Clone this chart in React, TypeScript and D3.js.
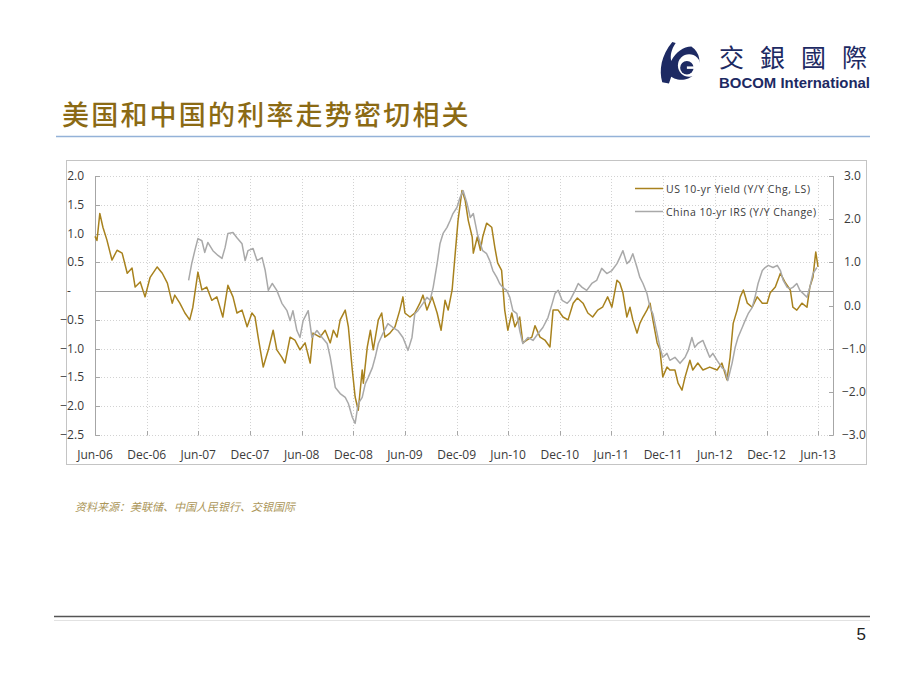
import { useEffect, useRef } from "react";
import * as d3 from "d3";

// US 10-yr yield, y/y change (left scale)
const usSeries: [string, number][] = [
  ["2006-06-01", 0.95], ["2006-06-08", 0.88], ["2006-06-18", 1.35], ["2006-06-29", 1.11],
  ["2006-07-13", 0.89], ["2006-07-31", 0.54], ["2006-08-18", 0.71], ["2006-09-05", 0.66],
  ["2006-09-23", 0.31], ["2006-10-10", 0.4], ["2006-10-21", 0.07], ["2006-11-08", 0.16],
  ["2006-11-25", -0.1], ["2006-12-13", 0.24], ["2007-01-07", 0.42], ["2007-01-25", 0.31],
  ["2007-02-12", 0.14], ["2007-03-01", -0.21], ["2007-03-10", -0.07], ["2007-03-28", -0.21],
  ["2007-04-15", -0.38], ["2007-05-02", -0.5], ["2007-05-13", -0.28], ["2007-05-31", 0.33],
  ["2007-06-14", 0.02], ["2007-07-01", 0.07], ["2007-07-19", -0.16], ["2007-08-06", -0.1],
  ["2007-08-27", -0.45], ["2007-09-14", 0.1], ["2007-10-02", -0.1], ["2007-10-16", -0.38],
  ["2007-11-03", -0.33], ["2007-11-21", -0.62], ["2007-12-08", -0.38], ["2007-12-19", -0.45],
  ["2007-12-30", -0.8], ["2008-01-17", -1.32], ["2008-02-04", -1.02], ["2008-02-21", -0.68],
  ["2008-03-05", -1.02], ["2008-03-23", -1.15], ["2008-04-03", -1.25], ["2008-04-21", -0.8],
  ["2008-05-08", -0.85], ["2008-05-26", -1.02], ["2008-06-13", -0.9], ["2008-07-01", -1.25],
  ["2008-07-11", -0.73], ["2008-08-05", -0.8], ["2008-08-23", -0.68], ["2008-09-10", -0.9],
  ["2008-09-21", -0.68], ["2008-10-04", -0.8], ["2008-10-15", -0.5], ["2008-11-02", -0.33],
  ["2008-11-13", -0.62], ["2008-11-27", -1.37], ["2008-12-07", -1.84], ["2008-12-18", -2.07],
  ["2009-01-01", -1.37], ["2009-01-05", -1.6], ["2009-01-19", -0.97], ["2009-01-30", -0.68],
  ["2009-02-09", -1.02], ["2009-02-27", -0.5], ["2009-03-11", -0.38], ["2009-03-22", -0.8],
  ["2009-04-09", -0.73], ["2009-04-27", -0.62], ["2009-05-14", -0.33], ["2009-05-25", -0.1],
  ["2009-06-01", -0.38], ["2009-06-19", -0.45], ["2009-07-06", -0.38], ["2009-07-24", -0.21],
  ["2009-08-04", -0.07], ["2009-08-18", -0.33], ["2009-09-05", -0.1], ["2009-09-23", -0.38],
  ["2009-10-07", -0.68], ["2009-10-21", -0.16], ["2009-11-01", -0.33], ["2009-11-15", 0.02],
  ["2009-11-26", 0.66], ["2009-12-06", 1.23], ["2009-12-20", 1.75], ["2009-12-31", 1.58],
  ["2010-01-11", 1.23], ["2010-01-25", 0.94], ["2010-01-29", 0.66], ["2010-02-12", 0.94],
  ["2010-02-23", 0.71], ["2010-03-03", 0.94], ["2010-03-17", 1.18], ["2010-04-04", 1.11],
  ["2010-04-15", 0.76], ["2010-04-25", 0.49], ["2010-05-09", 0.36], ["2010-05-20", -0.33],
  ["2010-05-31", -0.68], ["2010-06-14", -0.38], ["2010-06-25", -0.62], ["2010-07-12", -0.45],
  ["2010-07-23", -0.9], ["2010-08-06", -0.85], ["2010-08-24", -0.8], ["2010-09-04", -0.6],
  ["2010-09-22", -0.8], ["2010-10-09", -0.85], ["2010-10-27", -0.97], ["2010-11-07", -0.33],
  ["2010-11-25", -0.33], ["2010-12-12", -0.45], ["2010-12-30", -0.5], ["2011-01-17", -0.21],
  ["2011-02-01", -0.12], ["2011-02-21", -0.21], ["2011-03-10", -0.38], ["2011-03-27", -0.45],
  ["2011-04-14", -0.33], ["2011-05-01", -0.28], ["2011-05-19", -0.1], ["2011-06-03", -0.28],
  ["2011-06-21", 0.19], ["2011-07-01", 0.14], ["2011-07-12", -0.03], ["2011-07-26", -0.45],
  ["2011-08-06", -0.28], ["2011-08-16", -0.5], ["2011-08-31", -0.73], ["2011-09-10", -0.56],
  ["2011-09-21", -0.45], ["2011-10-05", -0.33], ["2011-10-16", -0.21], ["2011-10-26", -0.5],
  ["2011-11-10", -0.9], ["2011-11-20", -1.02], ["2011-11-30", -1.49], ["2011-12-15", -1.32],
  ["2011-12-25", -1.37], ["2012-01-12", -1.37], ["2012-01-23", -1.6], ["2012-02-06", -1.72],
  ["2012-02-17", -1.49], ["2012-03-05", -1.2], ["2012-03-15", -1.37], ["2012-04-02", -1.25],
  ["2012-04-20", -1.37], ["2012-05-14", -1.32], ["2012-06-09", -1.37], ["2012-06-26", -1.25],
  ["2012-07-14", -1.54], ["2012-07-25", -1.15], ["2012-08-05", -0.56], ["2012-08-19", -0.33],
  ["2012-08-30", -0.1], ["2012-09-10", 0.02], ["2012-09-24", -0.21], ["2012-10-11", -0.28],
  ["2012-10-29", -0.1], ["2012-11-16", -0.21], ["2012-12-03", -0.21], ["2012-12-14", -0.03],
  ["2013-01-01", 0.07], ["2013-01-19", 0.31], ["2013-02-06", 0.14], ["2013-02-23", 0.02],
  ["2013-03-04", -0.28], ["2013-03-18", -0.33], ["2013-04-05", -0.21], ["2013-04-23", -0.28],
  ["2013-05-03", 0.07], ["2013-05-14", 0.24], ["2013-05-24", 0.68], ["2013-06-01", 0.42],
];

// China 10-yr IRS, y/y change (right scale)
const cnSeries: [string, number][] = [
  ["2007-04-28", 0.58], ["2007-05-09", 0.97], ["2007-05-20", 1.27], ["2007-05-31", 1.55],
  ["2007-06-14", 1.5], ["2007-06-24", 1.23], ["2007-07-05", 1.46], ["2007-07-23", 1.27],
  ["2007-08-10", 1.16], ["2007-08-24", 1.09], ["2007-09-04", 1.34], ["2007-09-14", 1.67],
  ["2007-10-02", 1.69], ["2007-10-16", 1.57], ["2007-11-03", 1.43], ["2007-11-14", 1.04],
  ["2007-11-24", 1.27], ["2007-12-12", 1.32], ["2007-12-26", 1.04], ["2008-01-13", 1.11],
  ["2008-01-24", 0.81], ["2008-02-04", 0.35], ["2008-02-18", 0.51], ["2008-03-05", 0.35],
  ["2008-03-23", 0.05], ["2008-04-10", -0.12], ["2008-04-21", -0.35], ["2008-05-01", -0.12],
  ["2008-05-15", -0.58], ["2008-05-26", -0.74], ["2008-06-06", -0.35], ["2008-06-24", -0.12],
  ["2008-07-07", -0.74], ["2008-07-25", -0.58], ["2008-08-12", -0.74], ["2008-08-30", -0.88],
  ["2008-09-10", -1.2], ["2008-09-28", -1.9], ["2008-10-15", -2.04], ["2008-11-02", -2.13],
  ["2008-11-13", -2.27], ["2008-11-27", -2.59], ["2008-12-07", -2.73], ["2008-12-18", -2.27],
  ["2009-01-01", -2.13], ["2009-01-12", -1.81], ["2009-01-22", -1.67], ["2009-02-06", -1.44],
  ["2009-02-16", -1.2], ["2009-02-27", -0.88], ["2009-03-15", -0.65], ["2009-04-02", -0.42],
  ["2009-04-20", -0.51], ["2009-05-07", -0.58], ["2009-05-25", -0.74], ["2009-06-12", -1.04],
  ["2009-06-26", -0.74], ["2009-07-06", -0.19], ["2009-07-17", -0.12], ["2009-08-04", 0.05],
  ["2009-08-18", 0.19], ["2009-08-29", 0.12], ["2009-09-09", 0.42], ["2009-09-23", 0.97],
  ["2009-10-03", 1.43], ["2009-10-14", 1.67], ["2009-10-28", 1.81], ["2009-11-08", 1.97],
  ["2009-11-18", 2.13], ["2009-12-02", 2.27], ["2009-12-13", 2.5], ["2009-12-24", 2.66],
  ["2010-01-07", 2.36], ["2010-01-18", 2.04], ["2010-01-29", 2.13], ["2010-02-12", 1.67],
  ["2010-02-23", 1.43], ["2010-03-03", 1.27], ["2010-03-17", 1.2], ["2010-03-28", 1.04],
  ["2010-04-08", 0.81], ["2010-04-22", 0.65], ["2010-05-02", 0.51], ["2010-05-13", 0.42],
  ["2010-05-27", 0.35], ["2010-06-07", 0.19], ["2010-06-18", -0.12], ["2010-07-02", -0.19],
  ["2010-07-12", -0.58], ["2010-07-23", -0.88], ["2010-08-10", -0.74], ["2010-08-28", -0.81],
  ["2010-09-15", -0.65], ["2010-10-02", -0.51], ["2010-10-20", -0.28], ["2010-11-04", 0.05],
  ["2010-11-14", 0.28], ["2010-11-25", 0.35], ["2010-12-09", 0.12], ["2010-12-27", 0.05],
  ["2011-01-06", 0.12], ["2011-01-24", 0.35], ["2011-02-04", 0.51], ["2011-02-18", 0.42],
  ["2011-03-06", 0.35], ["2011-03-24", 0.51], ["2011-04-10", 0.58], ["2011-04-28", 0.86],
  ["2011-05-16", 0.74], ["2011-06-03", 0.81], ["2011-06-21", 0.97], ["2011-07-01", 1.11],
  ["2011-07-12", 1.27], ["2011-07-26", 0.97], ["2011-08-06", 1.04], ["2011-08-16", 1.2],
  ["2011-08-31", 0.88], ["2011-09-10", 0.65], ["2011-09-21", 0.51], ["2011-10-05", 0.28],
  ["2011-10-16", -0.05], ["2011-10-26", -0.19], ["2011-11-10", -0.65], ["2011-11-20", -0.97],
  ["2011-11-30", -1.2], ["2011-12-15", -1.11], ["2011-12-25", -1.27], ["2012-01-12", -1.2],
  ["2012-01-30", -1.34], ["2012-02-17", -1.2], ["2012-02-28", -1.04], ["2012-03-12", -0.74],
  ["2012-03-22", -0.97], ["2012-04-02", -0.88], ["2012-04-20", -0.81], ["2012-05-04", -1.04],
  ["2012-05-14", -1.2], ["2012-05-25", -1.11], ["2012-06-09", -1.27], ["2012-06-26", -1.44],
  ["2012-07-07", -1.5], ["2012-07-17", -1.74], ["2012-08-01", -1.34], ["2012-08-12", -0.97],
  ["2012-08-22", -0.74], ["2012-09-06", -0.51], ["2012-09-16", -0.35], ["2012-09-27", -0.19],
  ["2012-10-11", -0.05], ["2012-10-21", 0.19], ["2012-11-01", 0.51], ["2012-11-16", 0.81],
  ["2012-11-26", 0.88], ["2012-12-07", 0.93], ["2012-12-24", 0.88], ["2013-01-08", 0.93],
  ["2013-01-19", 0.81], ["2013-01-29", 0.58], ["2013-02-12", 0.42], ["2013-02-23", 0.39],
  ["2013-03-04", 0.42], ["2013-03-18", 0.51], ["2013-03-29", 0.35], ["2013-04-09", 0.28],
  ["2013-04-23", 0.19], ["2013-05-03", 0.42], ["2013-05-14", 0.74], ["2013-05-28", 0.88],
];

const xTicks = [
  "2006-06-01", "2006-12-01", "2007-06-01", "2007-12-01", "2008-06-01",
  "2008-12-01", "2009-06-01", "2009-12-01", "2010-06-01", "2010-12-01",
  "2011-06-01", "2011-12-01", "2012-06-01", "2012-12-01", "2013-06-01",
];
const leftTicks = [2, 1.5, 1, 0.5, 0, -0.5, -1, -1.5, -2, -2.5];
const rightTicks = [3, 2, 1, 0, -1, -2, -3];
const seriesNames = ["US 10-yr Yield (Y/Y Chg, LS)", "China 10-yr IRS (Y/Y Change)"];
const seriesColors = ["#a8821e", "#a9a9a9"];

const title = "美国和中国的利率走势密切相关";
const source = "资料来源：美联储、中国人民银行、交银国际";

const axisFont = "'Open Sans', 'Noto Sans', sans-serif";

export default function App() {
  const svgRef = useRef<SVGSVGElement>(null);

  useEffect(() => {
    const svg = d3.select(svgRef.current);
    svg.selectAll("*").remove();

    const parse = d3.timeParse("%Y-%m-%d");
    const x = d3
      .scaleTime()
      .domain([parse("2006-06-01")!, parse("2013-07-24")!])
      .range([95, 833]);
    const yL = d3.scaleLinear().domain([-2.5, 2]).range([435, 176]);
    const yR = d3.scaleLinear().domain([-3, 3]).range([435, 176]);

    svg.append("rect").attr("width", 920).attr("height", 690).attr("fill", "#fff");

    // --- header logo ---
    const logo = svg
      .append("g")
      .attr("fill", "#1d2a63")
      .attr("transform", "translate(660,42) scale(1.12) translate(-662,-43)");
    logo
      .append("path")
      .attr(
        "d",
        "M664,79 C661,68 663,55 673,43 L676,44 C672,50 671,55 672,60 C676,52 683,47 690,47 A16,16 0 1 1 672,74 L670,80 Z"
      );
    logo.append("circle").attr("cx", 688).attr("cy", 64).attr("r", 10).attr("fill", "#fff");
    logo.append("circle").attr("cx", 686).attr("cy", 66).attr("r", 6);
    logo.append("rect").attr("x", 686).attr("y", 64.8).attr("width", 19).attr("height", 2.2).attr("fill", "#fff");
    svg
      .append("text")
      .attr("x", 719)
      .attr("y", 67)
      .attr("font-family", "'Noto Sans CJK TC', sans-serif")
      .attr("font-size", 25)
      .attr("letter-spacing", 16)
      .attr("fill", "#1d2a63")
      .text("交銀國際");
    svg
      .append("text")
      .attr("x", 719)
      .attr("y", 88)
      .attr("font-family", "'Liberation Sans', Arial, sans-serif")
      .attr("font-weight", "bold")
      .attr("font-size", 15)
      .attr("textLength", 151)
      .attr("lengthAdjust", "spacingAndGlyphs")
      .attr("fill", "#1d2a63")
      .text("BOCOM International");

    // --- title ---
    svg
      .append("text")
      .attr("x", 62)
      .attr("y", 125)
      .attr("font-family", "'Noto Sans CJK SC', sans-serif")
      .attr("font-size", 27)
      .attr("font-weight", 500)
      .attr("letter-spacing", 2.2)
      .attr("fill", "#8b6a14")
      .text(title);
    svg
      .append("line")
      .attr("x1", 56)
      .attr("x2", 870)
      .attr("y1", 136.5)
      .attr("y2", 136.5)
      .attr("stroke", "#94b2d8")
      .attr("stroke-width", 1.5);

    // --- chart frame ---
    svg
      .append("rect")
      .attr("x", 66.5)
      .attr("y", 160.5)
      .attr("width", 800)
      .attr("height", 304)
      .attr("fill", "none")
      .attr("stroke", "#c4c4c4");

    const tickDates = xTicks.map((d) => parse(d)!);

    // grid
    const grid = svg.append("g").attr("stroke", "#d2d2d2").attr("stroke-dasharray", "1,2");
    grid
      .selectAll("line.h")
      .data(leftTicks.filter((t) => t !== 0))
      .join("line")
      .attr("x1", 95)
      .attr("x2", 833)
      .attr("y1", (d) => Math.round(yL(d)) + 0.5)
      .attr("y2", (d) => Math.round(yL(d)) + 0.5);
    grid
      .selectAll("line.v")
      .data(tickDates.slice(1))
      .join("line")
      .attr("x1", (d) => Math.round(x(d)) + 0.5)
      .attr("x2", (d) => Math.round(x(d)) + 0.5)
      .attr("y1", 176)
      .attr("y2", 435);

    // zero line
    svg
      .append("line")
      .attr("x1", 95)
      .attr("x2", 833)
      .attr("y1", Math.round(yL(0)) + 0.5)
      .attr("y2", Math.round(yL(0)) + 0.5)
      .attr("stroke", "#9a9a9a");

    // axis lines
    const axes = svg.append("g").attr("stroke", "#a6a6a6");
    axes.append("line").attr("x1", 95.5).attr("x2", 95.5).attr("y1", 176).attr("y2", 435.5);
    axes.append("line").attr("x1", 833.5).attr("x2", 833.5).attr("y1", 176).attr("y2", 435.5);
    axes
      .selectAll("line.lt")
      .data(leftTicks)
      .join("line")
      .attr("x1", 95.5)
      .attr("x2", 100)
      .attr("y1", (d) => Math.round(yL(d)) + 0.5)
      .attr("y2", (d) => Math.round(yL(d)) + 0.5);
    axes
      .selectAll("line.rt")
      .data(rightTicks)
      .join("line")
      .attr("x1", 829)
      .attr("x2", 833.5)
      .attr("y1", (d) => Math.round(yR(d)) + 0.5)
      .attr("y2", (d) => Math.round(yR(d)) + 0.5);
    axes
      .selectAll("line.xt")
      .data(tickDates)
      .join("line")
      .attr("x1", (d) => Math.round(x(d)) + 0.5)
      .attr("x2", (d) => Math.round(x(d)) + 0.5)
      .attr("y1", 431)
      .attr("y2", 435.5);

    // tick labels
    const fmt = d3.format(".1f");
    svg
      .append("g")
      .attr("font-family", axisFont)
      .attr("font-size", 12)
      .attr("fill", "#3a3a3a")
      .selectAll("text")
      .data(leftTicks)
      .join("text")
      .attr("x", (d) => (d === 0 ? 67 : 84))
      .attr("text-anchor", (d) => (d === 0 ? "start" : "end"))
      .attr("y", (d) => yL(d) + 4)
      .text((d) => (d === 0 ? "-" : fmt(d)));
    svg
      .append("g")
      .attr("font-family", axisFont)
      .attr("font-size", 12)
      .attr("fill", "#3a3a3a")
      .selectAll("text")
      .data(rightTicks)
      .join("text")
      .attr("x", (d) => (d < 0 ? 842 : 844))
      .attr("y", (d) => yR(d) + 4)
      .text((d) => fmt(d));
    const monthFmt = d3.timeFormat("%b-%y");
    svg
      .append("g")
      .attr("font-family", axisFont)
      .attr("font-size", 12)
      .attr("fill", "#3a3a3a")
      .attr("text-anchor", "middle")
      .selectAll("text")
      .data(tickDates)
      .join("text")
      .attr("x", (d) => x(d))
      .attr("y", 459)
      .text((d) => monthFmt(d));

    // series
    const lineL = d3
      .line<[string, number]>()
      .x((d) => x(parse(d[0])!))
      .y((d) => yL(d[1]));
    const lineR = d3
      .line<[string, number]>()
      .x((d) => x(parse(d[0])!))
      .y((d) => yR(d[1]));
    svg
      .append("path")
      .datum(usSeries)
      .attr("fill", "none")
      .attr("stroke", seriesColors[0])
      .attr("stroke-width", 1.5)
      .attr("stroke-linejoin", "round")
      .attr("d", lineL);
    svg
      .append("path")
      .datum(cnSeries)
      .attr("fill", "none")
      .attr("stroke", seriesColors[1])
      .attr("stroke-width", 1.5)
      .attr("stroke-linejoin", "round")
      .attr("d", lineR);

    // legend
    const legend = svg.append("g");
    seriesNames.forEach((name, i) => {
      const ly = 188.5 + i * 23;
      legend
        .append("line")
        .attr("x1", 635)
        .attr("x2", 663)
        .attr("y1", ly)
        .attr("y2", ly)
        .attr("stroke", seriesColors[i])
        .attr("stroke-width", 1.5);
      legend
        .append("text")
        .attr("x", 666)
        .attr("y", ly + 4)
        .attr("font-family", axisFont)
        .attr("font-size", 10.5)
        .attr("fill", "#3a3a3a")
        .attr("textLength", i === 0 ? 144 : 150)
        .attr("lengthAdjust", "spacing")
        .text(name);
    });

    // source
    svg
      .append("text")
      .attr("x", 75)
      .attr("y", 511)
      .attr("font-family", "'Noto Sans CJK SC', sans-serif")
      .attr("font-size", 11)
      .attr("font-style", "italic")
      .attr("fill", "#ab9659")
      .text(source);

    // footer
    svg
      .append("line")
      .attr("x1", 54)
      .attr("x2", 870)
      .attr("y1", 616.5)
      .attr("y2", 616.5)
      .attr("stroke", "#555")
      .attr("stroke-width", 1.5);
    svg
      .append("line")
      .attr("x1", 54)
      .attr("x2", 870)
      .attr("y1", 620.5)
      .attr("y2", 620.5)
      .attr("stroke", "#e2e2e2");
    svg
      .append("text")
      .attr("x", 866)
      .attr("y", 640)
      .attr("text-anchor", "end")
      .attr("font-family", "'Liberation Sans', Arial, sans-serif")
      .attr("font-size", 17)
      .attr("fill", "#222")
      .text("5");
  }, []);

  return (
    <>
      <style>{`body{margin:0}`}</style>
      <svg ref={svgRef} width={920} height={690} style={{ display: "block" }}></svg>
    </>
  );
}
